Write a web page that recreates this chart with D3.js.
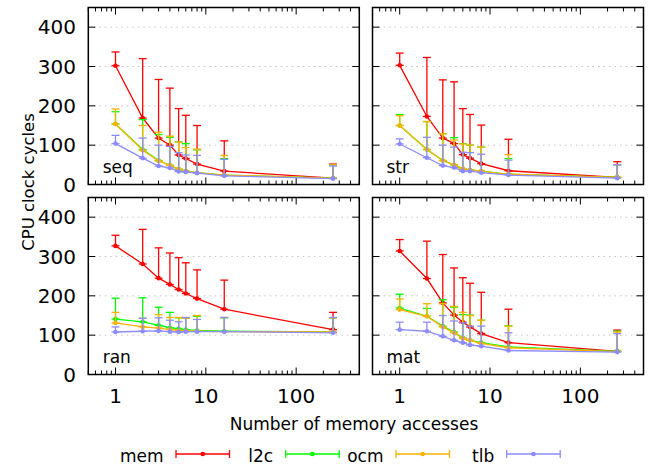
<!DOCTYPE html>
<html><head><meta charset="utf-8">
<script src="https://cdn.jsdelivr.net/npm/d3@7"></script>
<style>body{margin:0;background:#fff}svg{display:block}text{font-family:"DejaVu Sans",sans-serif;fill:#000}</style>
</head><body><svg id="c" width="648" height="468"></svg>
<script>
const accesses = [1, 2, 3, 4, 5, 6, 8, 16, 256];
const seriesNames = ["mem", "l2c", "ocm", "tlb"];
const panelNames = ["seq", "str", "ran", "mat"];
const yTicks = [0, 100, 200, 300, 400];
const xTicks = [1, 10, 100];

// mean values and upper error bound per panel
const seqMem = [302, 169, 118, 100, 75, 66, 52, 34, 16];
const seqMemHi = [337, 320, 267, 245, 193, 176, 150, 111, 52];
const seqL2c = [154, 89, 61, 49, 39, 34, 30, 24, 16];
const seqL2cHi = [185, 165, 127, 120, 108, 104, 88, 66, 50];
const seqOcm = [154, 87, 60, 49, 39, 34, 30, 24, 16];
const seqOcmHi = [192, 150, 133, 123, 108, 94, 90, 74, 50];
const seqTlb = [104, 67, 47, 42, 33, 32, 29, 22, 15];
const seqTlbHi = [125, 118, 100, 97, 81, 75, 74, 64, 47];

const strMem = [303, 173, 118, 104, 76, 67, 53, 35, 18];
const strMemHi = [334, 323, 266, 261, 193, 178, 151, 115, 58];
const strL2c = [150, 89, 61, 50, 40, 37, 34, 26, 18];
const strL2cHi = [178, 160, 129, 119, 104, 100, 95, 66, 50];
const strOcm = [150, 89, 61, 50, 40, 37, 34, 26, 18];
const strOcmHi = [175, 160, 129, 113, 103, 100, 95, 76, 50];
const strTlb = [103, 68, 48, 43, 34, 34, 30, 24, 16];
const strTlbHi = [116, 120, 100, 95, 82, 81, 77, 62, 50];

const ranMem = [327, 281, 245, 229, 216, 206, 193, 166, 114];
const ranMemHi = [354, 369, 322, 309, 297, 284, 266, 240, 158];
const ranL2c = [141, 134, 125, 119, 116, 114, 112, 110, 108];
const ranL2cHi = [194, 195, 171, 158, 144, 144, 148, 144, 144];
const ranOcm = [131, 121, 118, 114, 112, 111, 110, 109, 108];
const ranOcmHi = [158, 143, 152, 145, 145, 143, 150, 145, 144];
const ranTlb = [108, 110, 111, 109, 108, 109, 109, 109, 106];
const ranTlbHi = [121, 143, 144, 138, 134, 145, 140, 145, 145];

const matMem = [314, 244, 182, 151, 133, 121, 104, 81, 59];
const matMemHi = [343, 339, 305, 271, 246, 232, 209, 166, 113];
const matL2c = [169, 148, 123, 108, 93, 87, 81, 70, 59];
const matL2cHi = [204, 168, 190, 171, 152, 151, 138, 124, 110];
const matOcm = [165, 148, 121, 106, 92, 87, 79, 68, 58];
const matOcmHi = [192, 180, 180, 173, 158, 150, 138, 123, 108];
const matTlb = [114, 110, 97, 87, 81, 75, 72, 61, 57];
const matTlbHi = [133, 133, 150, 136, 131, 123, 123, 106, 104];

const panelData = {
  seq: [[seqMem, seqMemHi], [seqL2c, seqL2cHi], [seqOcm, seqOcmHi], [seqTlb, seqTlbHi]],
  str: [[strMem, strMemHi], [strL2c, strL2cHi], [strOcm, strOcmHi], [strTlb, strTlbHi]],
  ran: [[ranMem, ranMemHi], [ranL2c, ranL2cHi], [ranOcm, ranOcmHi], [ranTlb, ranTlbHi]],
  mat: [[matMem, matMemHi], [matL2c, matL2cHi], [matOcm, matOcmHi], [matTlb, matTlbHi]]
};
const colors = ["#ff0000", "#00ff00", "#ffb000", "#8c8cff"];

const svg = d3.select("#c");
const pw = 271, ph = 177;
const lefts = [88.3, 372.5], tops = [7.5, 197.5];

panelNames.forEach((name, i) => {
  const col = i % 2, row = Math.floor(i / 2);
  const x0 = lefts[col], y0 = tops[row];
  const x = d3.scaleLog().domain([0.5, 500]).range([x0, x0 + pw]);
  const y = d3.scaleLinear().domain([0, 450]).range([y0 + ph, y0]);
  const g = svg.append("g");

  // grid
  g.selectAll(".grid").data(yTicks.filter(v => v > 0)).join("line")
    .attr("x1", x0).attr("x2", x0 + pw).attr("y1", d => y(d)).attr("y2", d => y(d))
    .attr("stroke", "#c4c4c4").attr("stroke-width", 1).attr("stroke-dasharray", "1.5,4");

  // ticks (inward, mirrored)
  const minor = [];
  for (let dec = 0.1; dec <= 100; dec *= 10) for (let k = 2; k <= 9; k++) {
    const v = +(dec * k).toPrecision(3);
    if (v >= 0.5 && v <= 500) minor.push(v);
  }
  const tick = (x1, y1, x2, y2) => g.append("line").attr("x1", x1).attr("y1", y1).attr("x2", x2).attr("y2", y2)
    .attr("stroke", "#000").attr("stroke-width", 1);
  xTicks.forEach(v => { tick(x(v), y0 + ph, x(v), y0 + ph - 7); tick(x(v), y0, x(v), y0 + 7); });
  minor.forEach(v => { tick(x(v), y0 + ph, x(v), y0 + ph - 4); tick(x(v), y0, x(v), y0 + 4); });
  yTicks.forEach(v => { tick(x0, y(v), x0 + 7, y(v)); tick(x0 + pw, y(v), x0 + pw - 7, y(v)); });

  // series
  panelData[name].forEach((s, si) => {
    const [vals, his] = s;
    const c = colors[si];
    const pts = accesses.map((a, j) => ({a, v: vals[j], h: his[j]}));
    const sg = g.append("g").attr("stroke", c).attr("stroke-width", 1.3).attr("fill", "none");
    sg.append("path").datum(pts).attr("d", d3.line().x(d => x(d.a)).y(d => y(d.v)));
    pts.forEach(d => {
      sg.append("line").attr("x1", x(d.a)).attr("x2", x(d.a)).attr("y1", y(d.v)).attr("y2", y(d.h));
      sg.append("line").attr("x1", x(d.a) - 4).attr("x2", x(d.a) + 4).attr("y1", y(d.h)).attr("y2", y(d.h));
      sg.append("line").attr("x1", x(d.a) - 4).attr("x2", x(d.a) + 4).attr("y1", y(d.v)).attr("y2", y(d.v));
    });
    g.selectAll(null).data(pts).join("circle").attr("cx", d => x(d.a)).attr("cy", d => y(d.v))
      .attr("r", 2.3).attr("fill", c);
  });

  // frame
  g.append("rect").attr("x", x0).attr("y", y0).attr("width", pw).attr("height", ph)
    .attr("fill", "none").attr("stroke", "#000").attr("stroke-width", 1.5);

  // panel label
  g.append("text").attr("x", x0 + (col ? 14 : 14.4)).attr("y", y0 + ph - 12).attr("font-size", 17).text(name);

  if (col === 0) {
    yTicks.forEach(v => g.append("text").attr("x", 76).attr("y", y(v) + 7.3)
      .attr("text-anchor", "end").attr("font-size", 20).text(v));
  }
  if (row === 1) {
    xTicks.forEach(v => g.append("text").attr("x", x(v)).attr("y", 403.3)
      .attr("text-anchor", "middle").attr("font-size", 20).text(v));
  }
});

svg.append("text").attr("transform", "translate(33.5,182) rotate(-90)").attr("text-anchor", "middle")
  .attr("font-size", 16.5).text("CPU clock cycles");
svg.append("text").attr("x", 354).attr("y", 429.5).attr("text-anchor", "middle")
  .attr("font-size", 17).text("Number of memory accesses");

// legend
const legX = [176, 285.7, 396, 506.7];
seriesNames.forEach((n, i) => {
  const sx = legX[i], ly = 454, w = 53.5, c = colors[i];
  svg.append("text").attr("x", sx - 12.5).attr("y", 461.5).attr("text-anchor", "end").attr("font-size", 17).text(n);
  const lg = svg.append("g").attr("stroke", c).attr("stroke-width", 1.3);
  lg.append("line").attr("x1", sx).attr("x2", sx + w).attr("y1", ly).attr("y2", ly);
  lg.append("line").attr("x1", sx).attr("x2", sx).attr("y1", ly - 4).attr("y2", ly + 4);
  lg.append("line").attr("x1", sx + w).attr("x2", sx + w).attr("y1", ly - 4).attr("y2", ly + 4);
  svg.append("circle").attr("cx", sx + w / 2).attr("cy", ly).attr("r", 2.3).attr("fill", c);
});
</script></body></html>
